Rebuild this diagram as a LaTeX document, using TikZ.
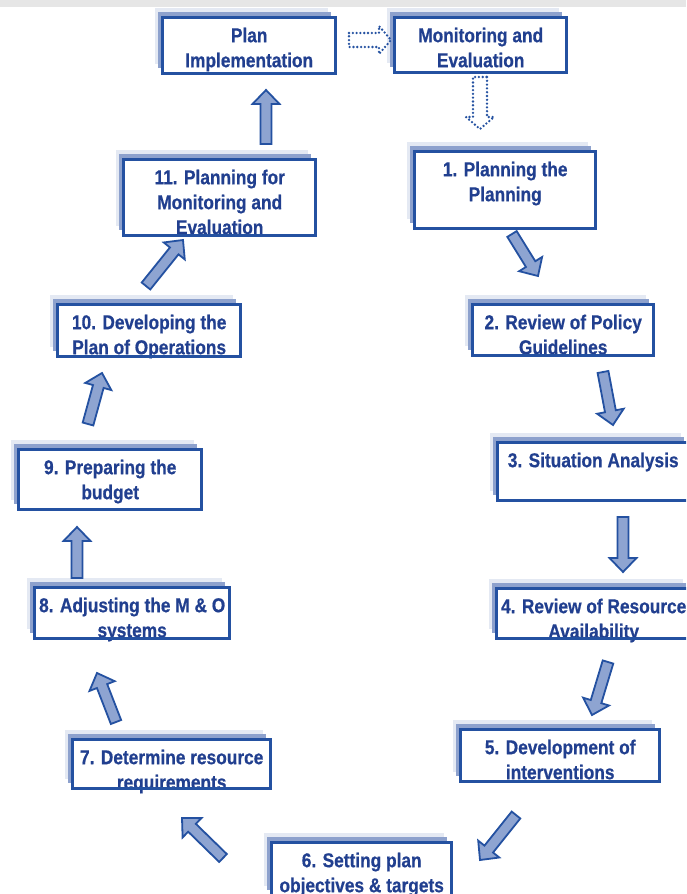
\documentclass[tikz,border=0pt]{standalone}
\usepackage{fontspec}
\setmainfont{Liberation Sans}[FakeStretch=0.865, BoldFeatures={FakeBold=0.6}]
\usetikzlibrary{calc,shadows}

\definecolor{navy}{HTML}{213F8F}
\definecolor{boxedge}{HTML}{2451A1}
\definecolor{midblue}{HTML}{8DA1CD}
\definecolor{paleblue}{HTML}{E4E9F3}
\definecolor{arrowfill}{HTML}{8EA4D1}
\definecolor{band}{HTML}{E6E6E6}

\tikzset{
  stepbox/.style={rectangle, fill=white, draw=none, inner sep=0pt,
    general shadow={shadow xshift=-8pt, shadow yshift=10pt, fill=paleblue},
    general shadow={shadow xshift=-5pt, shadow yshift=6pt, fill=midblue}},
  stepedge/.style={draw=boxedge, line width=3pt},
  steptext/.style={text=navy, align=center, inner sep=0pt,
    font=\fontsize{20pt}{25pt}\selectfont\bfseries},
  % block arrow: shaft half width 5.5, head half width 13.5, head length 14
  blockarrow/.style={draw=boxedge, fill=arrowfill, line width=1.8pt, line join=miter,
    to path={($(\tikztostart)!5.5pt!90:(\tikztotarget)$)
      -- ($(\tikztotarget)!15.04pt!-21.45:(\tikztostart)$)
      -- ($(\tikztotarget)!19.45pt!-43.96:(\tikztostart)$)
      -- (\tikztotarget)
      -- ($(\tikztotarget)!19.45pt!43.96:(\tikztostart)$)
      -- ($(\tikztotarget)!15.04pt!21.45:(\tikztostart)$)
      -- ($(\tikztostart)!5.5pt!-90:(\tikztotarget)$) -- cycle}},
  % outlined dotted arrow: shaft half width 7, head half width 14, head length 12
  dotarrow/.style={draw=boxedge, line width=2.6pt, line cap=round,
    dash pattern=on 0pt off 3.8pt, fill=none,
    to path={($(\tikztostart)!7pt!90:(\tikztotarget)$)
      -- ($(\tikztotarget)!13.89pt!-30.26:(\tikztostart)$)
      -- ($(\tikztotarget)!18.44pt!-49.40:(\tikztostart)$)
      -- (\tikztotarget)
      -- ($(\tikztotarget)!18.44pt!49.40:(\tikztostart)$)
      -- ($(\tikztotarget)!13.89pt!30.26:(\tikztostart)$)
      -- ($(\tikztostart)!7pt!-90:(\tikztotarget)$) -- cycle}}
}

% name, left, top, right, bottom (outer edges of the frame), text
\newcommand\stepnode[6]{%
  \node[stepbox, anchor=north west,
        minimum width={(#4-#2-3)*1pt}, minimum height={(#5-#3-3)*1pt}]
        (#1) at ({#2+1.5},{#3+1.5}) {};
  \node[steptext, anchor=north] (#1-text) at ([yshift=-10pt]#1.north) {#6};
  \draw[stepedge] (#1.north west) rectangle (#1.south east);
}

\begin{document}
\begin{tikzpicture}[x=1pt, y=-1pt]
  \clip (0,0) rectangle (686,894);
  \fill[white] (0,0) rectangle (686,894);
  \fill[band] (0,0) rectangle (686,7);

  % planning cycle boxes
  \stepnode{impl}{161}{16}{337}{75}{Plan\\Implementation}
  \stepnode{mande}{393}{16}{568}{74}{Monitoring and\\Evaluation}
  \stepnode{s1}{413}{150}{597}{230}{1. Planning the\\Planning}
  \stepnode{s2}{471}{303}{655}{357}{2. Review of Policy\\Guidelines}
  \stepnode{s3}{496}{441}{690}{502}{3. Situation Analysis}
  \stepnode{s4}{495}{587}{692}{640}{4. Review of Resource\\Availability}
  \stepnode{s5}{459}{728}{661}{783}{5. Development of\\interventions}
  \stepnode{s6}{270}{841}{453}{897}{6. Setting plan\\objectives \& targets}
  \stepnode{s7}{71}{738}{272}{790}{7. Determine resource\\requirements}
  \stepnode{s8}{33}{586}{231}{640}{8. Adjusting the M \& O\\systems}
  \stepnode{s9}{17}{448}{203}{511}{9. Preparing the\\budget}
  \stepnode{s10}{56}{303}{242}{358}{10. Developing the\\Plan of Operations}
  \stepnode{s11}{122}{158}{317}{237}{11. Planning for\\Monitoring and\\Evaluation}

  % arrow ends
  \coordinate (d1s) at (349,40);  \coordinate (d1e) at (391,40);
  \coordinate (d2s) at (480,77);  \coordinate (d2e) at (480,129);
  \coordinate (a1s) at (512,234); \coordinate (a1e) at (538,276);
  \coordinate (a2s) at (603,372); \coordinate (a2e) at (613,425);
  \coordinate (a3s) at (623,517); \coordinate (a3e) at (623,572);
  \coordinate (a4s) at (608,662); \coordinate (a4e) at (592,715);
  \coordinate (a5s) at (516,815); \coordinate (a5e) at (480,860);
  \coordinate (a6s) at (223,858); \coordinate (a6e) at (182,818);
  \coordinate (a7s) at (116,722); \coordinate (a7e) at (97,673);
  \coordinate (a8s) at (77,578);  \coordinate (a8e) at (77,527);
  \coordinate (a9s) at (88,424);  \coordinate (a9e) at (102,373);
  \coordinate (a10s) at (146,286); \coordinate (a10e) at (183,240);
  \coordinate (a11s) at (266,144); \coordinate (a11e) at (266,90);

  % dotted links between implementation, M&E and step 1
  \draw[dotarrow] (d1s) to (d1e);
  \draw[dotarrow] (d2s) to (d2e);

  % cycle arrows
  \foreach \a in {a1,a2,a3,a4,a5,a6,a7,a8,a9,a10,a11}
    \draw[blockarrow] (\a s) to (\a e);
\end{tikzpicture}
\end{document}
